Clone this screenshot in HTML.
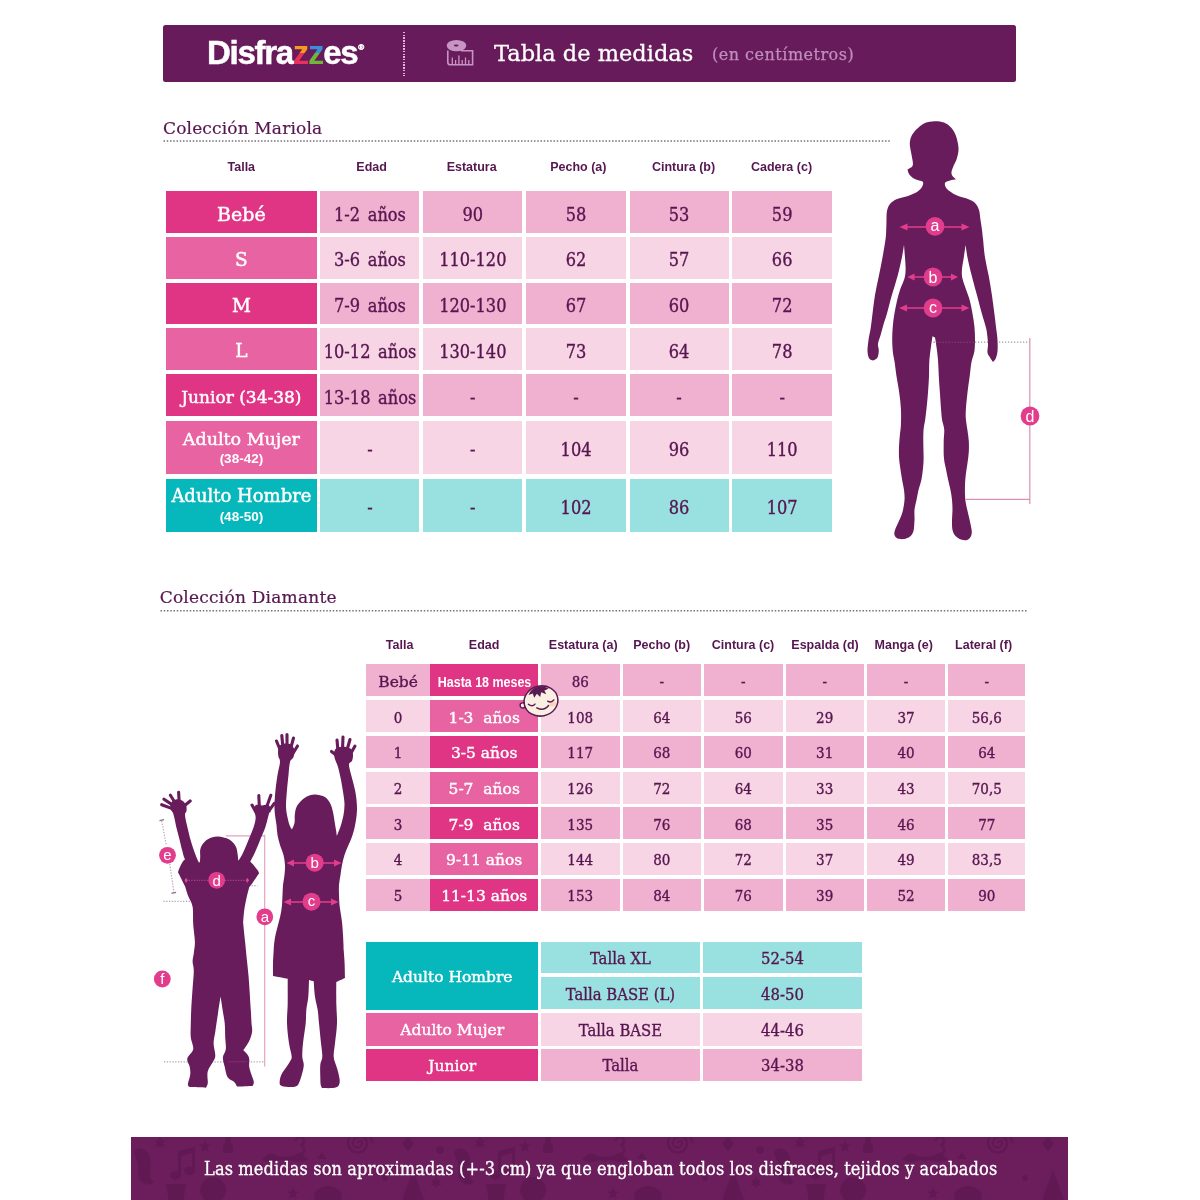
<!DOCTYPE html>
<html lang="es"><head><meta charset="utf-8"><title>Tabla de medidas</title>
<style>
html,body{margin:0;padding:0}
body{width:1200px;height:1200px;position:relative;overflow:hidden;background:#fff}
.a{position:absolute}
.c{position:absolute;box-sizing:border-box;display:flex;align-items:center;justify-content:center;text-align:center;white-space:nowrap;
 font-family:"DejaVu Serif","Liberation Serif",serif;font-stretch:condensed;color:#561650;-webkit-text-stroke:0.35px currentColor}
.w{color:#fff}
.h{position:absolute;font-family:"Liberation Sans","DejaVu Sans",sans-serif;font-weight:bold;font-size:12.5px;color:#561650;white-space:nowrap;line-height:14px;transform:translateX(-50%)}
.t{position:absolute;font-family:"DejaVu Serif","Liberation Serif",serif;color:#561650;white-space:nowrap;-webkit-text-stroke:0.2px currentColor}
.dot{position:absolute;height:1.5px;background:repeating-linear-gradient(90deg,#7d7480 0 1.5px,transparent 1.5px 3.25px)}
.s{font-family:"Liberation Sans",sans-serif;font-weight:bold;font-stretch:normal;-webkit-text-stroke:0}
</style></head>
<body>
<div class="a" style="left:163px;top:25px;width:853.4px;height:57.2px;background:#671b5a;border-radius:2.5px"></div>
<div class="a" id="logo" style="left:207px;top:32.5px;font:bold 33px/40px 'Liberation Sans',sans-serif;letter-spacing:-1.3px;color:#fff;white-space:nowrap;-webkit-text-stroke:0.5px #fff">Disfra<span style="background:linear-gradient(180deg,#f39a1f 0 52%,#e8325c 52% 100%);-webkit-background-clip:text;background-clip:text;color:transparent;-webkit-text-stroke:0">z</span><span style="background:linear-gradient(180deg,#3b8fd8 0 52%,#6fb63a 52% 100%);-webkit-background-clip:text;background-clip:text;color:transparent;-webkit-text-stroke:0">z</span>es<span style="font-size:8px;letter-spacing:0;position:relative;top:-14px;left:1px">®</span></div>
<div class="a" style="left:403.2px;top:32px;width:1.7px;height:44px;background:repeating-linear-gradient(180deg,#dfb6da 0 1.4px,transparent 1.4px 2.7px)"></div>
<svg class="a" style="left:444px;top:38px" width="32" height="30" viewBox="0 0 32 30">
 <g fill="none" stroke="#c795c3" stroke-width="1.6">
  <path d="M3.8 12.5V24.2Q3.8 26.8 6.4 26.8H28.6V12.8H17"/>
 </g>
 <ellipse cx="12.5" cy="7.6" rx="9.8" ry="5.7" fill="#c795c3"/>
 <ellipse cx="12.2" cy="7.4" rx="2.4" ry="1" fill="#671b5a"/>
 <g stroke="#c795c3" stroke-width="1.3"><path d="M8.3 26V19.5M11.6 26V22M14.9 26V17.5M18.2 26V22M21.5 26V19.5M24.8 26V22"/></g>
</svg>
<div class="t" id="ttl" style="left:494px;top:38px;font-size:22.5px;line-height:30px;color:#fff;-webkit-text-stroke:0.3px #fff">Tabla de medidas</div>
<div class="t" id="sub" style="left:712px;top:41.8px;font-size:16px;line-height:26px;color:#c08ebe;letter-spacing:0.5px;-webkit-text-stroke:0.25px #c08ebe">(en centímetros)</div>

<div class="t" id="s1" style="left:163px;top:116.5px;font-size:17px;line-height:22px;letter-spacing:.15px">Colección Mariola</div>
<svg class="a" style="left:0;top:138px" width="1200" height="6"><path d="M163.5 3H890" stroke="#7a6f7c" stroke-width="1.6" stroke-dasharray="1.5 1.75" fill="none"/></svg>
<div class="h" style="left:241.3px;top:159.5px">Talla</div>
<div class="h" style="left:371.6px;top:159.5px">Edad</div>
<div class="h" style="left:471.7px;top:159.5px">Estatura</div>
<div class="h" style="left:578.3px;top:159.5px">Pecho (a)</div>
<div class="h" style="left:683.5px;top:159.5px">Cintura (b)</div>
<div class="h" style="left:781.5px;top:159.5px">Cadera (c)</div>
<div class="c w" style="left:165.5px;top:191.3px;width:151.8px;height:41.7px;background:#e03585;font-size:19px;font-stretch:normal;padding-top:3.5px;-webkit-text-stroke:0.45px #fff">Bebé</div>
<div class="c" style="left:320px;top:191.3px;width:99px;height:41.7px;background:#f0b0d0;font-size:18px;padding-top:4px;word-spacing:2.5px;padding-left:1px">1-2 años</div>
<div class="c" style="left:423.3px;top:191.3px;width:99px;height:41.7px;background:#f0b0d0;font-size:18px;padding-top:4px">90</div>
<div class="c" style="left:526.3px;top:191.3px;width:99.5px;height:41.7px;background:#f0b0d0;font-size:18px;padding-top:4px">58</div>
<div class="c" style="left:629.5px;top:191.3px;width:99px;height:41.7px;background:#f0b0d0;font-size:18px;padding-top:4px">53</div>
<div class="c" style="left:732.3px;top:191.3px;width:99.7px;height:41.7px;background:#f0b0d0;font-size:18px;padding-top:4px">59</div>
<div class="c w" style="left:165.5px;top:237px;width:151.8px;height:41.5px;background:#e863a1;font-size:18.5px;font-stretch:normal;padding-top:3.5px;-webkit-text-stroke:0.45px #fff">S</div>
<div class="c" style="left:320px;top:237px;width:99px;height:41.5px;background:#f8d5e5;font-size:18px;padding-top:4px;word-spacing:2.5px;padding-left:1px">3-6 años</div>
<div class="c" style="left:423.3px;top:237px;width:99px;height:41.5px;background:#f8d5e5;font-size:18px;padding-top:4px">110-120</div>
<div class="c" style="left:526.3px;top:237px;width:99.5px;height:41.5px;background:#f8d5e5;font-size:18px;padding-top:4px">62</div>
<div class="c" style="left:629.5px;top:237px;width:99px;height:41.5px;background:#f8d5e5;font-size:18px;padding-top:4px">57</div>
<div class="c" style="left:732.3px;top:237px;width:99.7px;height:41.5px;background:#f8d5e5;font-size:18px;padding-top:4px">66</div>
<div class="c w" style="left:165.5px;top:282.7px;width:151.8px;height:41.5px;background:#e03585;font-size:18.5px;font-stretch:normal;padding-top:3.5px;-webkit-text-stroke:0.45px #fff">M</div>
<div class="c" style="left:320px;top:282.7px;width:99px;height:41.5px;background:#f0b0d0;font-size:18px;padding-top:4px;word-spacing:2.5px;padding-left:1px">7-9 años</div>
<div class="c" style="left:423.3px;top:282.7px;width:99px;height:41.5px;background:#f0b0d0;font-size:18px;padding-top:4px">120-130</div>
<div class="c" style="left:526.3px;top:282.7px;width:99.5px;height:41.5px;background:#f0b0d0;font-size:18px;padding-top:4px">67</div>
<div class="c" style="left:629.5px;top:282.7px;width:99px;height:41.5px;background:#f0b0d0;font-size:18px;padding-top:4px">60</div>
<div class="c" style="left:732.3px;top:282.7px;width:99.7px;height:41.5px;background:#f0b0d0;font-size:18px;padding-top:4px">72</div>
<div class="c w" style="left:165.5px;top:328.3px;width:151.8px;height:41.5px;background:#e863a1;font-size:18.5px;font-stretch:normal;padding-top:3.5px;-webkit-text-stroke:0.45px #fff">L</div>
<div class="c" style="left:320px;top:328.3px;width:99px;height:41.5px;background:#f8d5e5;font-size:18px;padding-top:4px;word-spacing:2.5px;padding-left:1px">10-12 años</div>
<div class="c" style="left:423.3px;top:328.3px;width:99px;height:41.5px;background:#f8d5e5;font-size:18px;padding-top:4px">130-140</div>
<div class="c" style="left:526.3px;top:328.3px;width:99.5px;height:41.5px;background:#f8d5e5;font-size:18px;padding-top:4px">73</div>
<div class="c" style="left:629.5px;top:328.3px;width:99px;height:41.5px;background:#f8d5e5;font-size:18px;padding-top:4px">64</div>
<div class="c" style="left:732.3px;top:328.3px;width:99.7px;height:41.5px;background:#f8d5e5;font-size:18px;padding-top:4px">78</div>
<div class="c w" style="left:165.5px;top:374.3px;width:151.8px;height:41.5px;background:#e03585;font-size:17px;font-stretch:normal;padding-top:3.5px;-webkit-text-stroke:0.45px #fff">Junior (34-38)</div>
<div class="c" style="left:320px;top:374.3px;width:99px;height:41.5px;background:#f0b0d0;font-size:18px;padding-top:4px;word-spacing:2.5px;padding-left:1px">13-18 años</div>
<div class="c" style="left:423.3px;top:374.3px;width:99px;height:41.5px;background:#f0b0d0;font-size:18px;padding-top:4px">-</div>
<div class="c" style="left:526.3px;top:374.3px;width:99.5px;height:41.5px;background:#f0b0d0;font-size:18px;padding-top:4px">-</div>
<div class="c" style="left:629.5px;top:374.3px;width:99px;height:41.5px;background:#f0b0d0;font-size:18px;padding-top:4px">-</div>
<div class="c" style="left:732.3px;top:374.3px;width:99.7px;height:41.5px;background:#f0b0d0;font-size:18px;padding-top:4px">-</div>
<div class="c w" style="left:165.5px;top:420.5px;width:151.8px;height:53.5px;background:#e863a1;font-size:17.5px;font-stretch:normal;padding-top:3.5px;-webkit-text-stroke:0.45px #fff;line-height:18.5px"><div>Adulto Mujer<br><span class="s" style="font-size:13.5px">(38-42)</span></div></div>
<div class="c" style="left:320px;top:420.5px;width:99px;height:53.5px;background:#f8d5e5;font-size:18px;padding-top:4px;word-spacing:2.5px;padding-left:1px">-</div>
<div class="c" style="left:423.3px;top:420.5px;width:99px;height:53.5px;background:#f8d5e5;font-size:18px;padding-top:4px">-</div>
<div class="c" style="left:526.3px;top:420.5px;width:99.5px;height:53.5px;background:#f8d5e5;font-size:18px;padding-top:4px">104</div>
<div class="c" style="left:629.5px;top:420.5px;width:99px;height:53.5px;background:#f8d5e5;font-size:18px;padding-top:4px">96</div>
<div class="c" style="left:732.3px;top:420.5px;width:99.7px;height:53.5px;background:#f8d5e5;font-size:18px;padding-top:4px">110</div>
<div class="c w" style="left:165.5px;top:478.5px;width:151.8px;height:53px;background:#06b7bb;font-size:18px;font-stretch:normal;padding-top:3.5px;-webkit-text-stroke:0.45px #fff;line-height:18.5px"><div>Adulto Hombre<br><span class="s" style="font-size:13.5px">(48-50)</span></div></div>
<div class="c" style="left:320px;top:478.5px;width:99px;height:53px;background:#98e1e0;font-size:18px;padding-top:4px;word-spacing:2.5px;padding-left:1px">-</div>
<div class="c" style="left:423.3px;top:478.5px;width:99px;height:53px;background:#98e1e0;font-size:18px;padding-top:4px">-</div>
<div class="c" style="left:526.3px;top:478.5px;width:99.5px;height:53px;background:#98e1e0;font-size:18px;padding-top:4px">102</div>
<div class="c" style="left:629.5px;top:478.5px;width:99px;height:53px;background:#98e1e0;font-size:18px;padding-top:4px">86</div>
<div class="c" style="left:732.3px;top:478.5px;width:99.7px;height:53px;background:#98e1e0;font-size:18px;padding-top:4px">107</div>
<div class="t" id="s2" style="left:159.700px;top:586.3px;font-size:17px;line-height:22px;letter-spacing:.22px">Colección Diamante</div>
<svg class="a" style="left:0;top:608px" width="1200" height="6"><path d="M160.5 2.800H1026.500" stroke="#7a6f7c" stroke-width="1.6" stroke-dasharray="1.5 1.75" fill="none"/></svg>
<div class="h" style="left:399.6px;top:637.5px">Talla</div>
<div class="h" style="left:484.1px;top:637.5px">Edad</div>
<div class="h" style="left:583.2px;top:637.5px">Estatura (a)</div>
<div class="h" style="left:661.7px;top:637.5px">Pecho (b)</div>
<div class="h" style="left:743px;top:637.5px">Cintura (c)</div>
<div class="h" style="left:825px;top:637.5px">Espalda (d)</div>
<div class="h" style="left:903.7px;top:637.5px">Manga (e)</div>
<div class="h" style="left:983.6px;top:637.5px">Lateral (f)</div>
<div class="c" style="left:366px;top:664.4px;width:64.2px;height:32px;background:#f0b0d0;font-size:15px;padding-top:3px;font-stretch:normal;font-size:15.5px">Bebé</div>
<div class="c w" style="left:430.2px;top:664.4px;width:108px;height:32px;background:#e03585;font-size:15px;padding-top:3px;font-stretch:normal;font-size:15.5px;-webkit-text-stroke:0.4px #fff"><span class="s" style="font-size:14px;display:inline-block;transform:scaleX(.89)">Hasta 18 meses</span></div>
<div class="c" style="left:541px;top:664.4px;width:78.5px;height:32px;background:#f0b0d0;font-size:15px;padding-top:3px">86</div>
<div class="c" style="left:622.5px;top:664.4px;width:78.7px;height:32px;background:#f0b0d0;font-size:15px;padding-top:3px">-</div>
<div class="c" style="left:704px;top:664.4px;width:78.7px;height:32px;background:#f0b0d0;font-size:15px;padding-top:3px">-</div>
<div class="c" style="left:785.6px;top:664.4px;width:78.2px;height:32px;background:#f0b0d0;font-size:15px;padding-top:3px">-</div>
<div class="c" style="left:867px;top:664.4px;width:78px;height:32px;background:#f0b0d0;font-size:15px;padding-top:3px">-</div>
<div class="c" style="left:948.3px;top:664.4px;width:77px;height:32px;background:#f0b0d0;font-size:15px;padding-top:3px">-</div>
<div class="c" style="left:366px;top:700.2px;width:64.2px;height:32px;background:#f8d5e5;font-size:15px;padding-top:3px">0</div>
<div class="c w" style="left:430.2px;top:700.2px;width:108px;height:32px;background:#e863a1;font-size:15px;padding-top:3px;font-stretch:normal;font-size:15.5px;-webkit-text-stroke:0.4px #fff">1-3&nbsp; años</div>
<div class="c" style="left:541px;top:700.2px;width:78.5px;height:32px;background:#f8d5e5;font-size:15px;padding-top:3px">108</div>
<div class="c" style="left:622.5px;top:700.2px;width:78.7px;height:32px;background:#f8d5e5;font-size:15px;padding-top:3px">64</div>
<div class="c" style="left:704px;top:700.2px;width:78.7px;height:32px;background:#f8d5e5;font-size:15px;padding-top:3px">56</div>
<div class="c" style="left:785.6px;top:700.2px;width:78.2px;height:32px;background:#f8d5e5;font-size:15px;padding-top:3px">29</div>
<div class="c" style="left:867px;top:700.2px;width:78px;height:32px;background:#f8d5e5;font-size:15px;padding-top:3px">37</div>
<div class="c" style="left:948.3px;top:700.2px;width:77px;height:32px;background:#f8d5e5;font-size:15px;padding-top:3px">56,6</div>
<div class="c" style="left:366px;top:735.9px;width:64.2px;height:32px;background:#f0b0d0;font-size:15px;padding-top:3px">1</div>
<div class="c w" style="left:430.2px;top:735.9px;width:108px;height:32px;background:#e03585;font-size:15px;padding-top:3px;font-stretch:normal;font-size:15.5px;-webkit-text-stroke:0.4px #fff">3-5 años</div>
<div class="c" style="left:541px;top:735.9px;width:78.5px;height:32px;background:#f0b0d0;font-size:15px;padding-top:3px">117</div>
<div class="c" style="left:622.5px;top:735.9px;width:78.7px;height:32px;background:#f0b0d0;font-size:15px;padding-top:3px">68</div>
<div class="c" style="left:704px;top:735.9px;width:78.7px;height:32px;background:#f0b0d0;font-size:15px;padding-top:3px">60</div>
<div class="c" style="left:785.6px;top:735.9px;width:78.2px;height:32px;background:#f0b0d0;font-size:15px;padding-top:3px">31</div>
<div class="c" style="left:867px;top:735.9px;width:78px;height:32px;background:#f0b0d0;font-size:15px;padding-top:3px">40</div>
<div class="c" style="left:948.3px;top:735.9px;width:77px;height:32px;background:#f0b0d0;font-size:15px;padding-top:3px">64</div>
<div class="c" style="left:366px;top:771.6px;width:64.2px;height:32px;background:#f8d5e5;font-size:15px;padding-top:3px">2</div>
<div class="c w" style="left:430.2px;top:771.6px;width:108px;height:32px;background:#e863a1;font-size:15px;padding-top:3px;font-stretch:normal;font-size:15.5px;-webkit-text-stroke:0.4px #fff">5-7&nbsp; años</div>
<div class="c" style="left:541px;top:771.6px;width:78.5px;height:32px;background:#f8d5e5;font-size:15px;padding-top:3px">126</div>
<div class="c" style="left:622.5px;top:771.6px;width:78.7px;height:32px;background:#f8d5e5;font-size:15px;padding-top:3px">72</div>
<div class="c" style="left:704px;top:771.6px;width:78.7px;height:32px;background:#f8d5e5;font-size:15px;padding-top:3px">64</div>
<div class="c" style="left:785.6px;top:771.6px;width:78.2px;height:32px;background:#f8d5e5;font-size:15px;padding-top:3px">33</div>
<div class="c" style="left:867px;top:771.6px;width:78px;height:32px;background:#f8d5e5;font-size:15px;padding-top:3px">43</div>
<div class="c" style="left:948.3px;top:771.6px;width:77px;height:32px;background:#f8d5e5;font-size:15px;padding-top:3px">70,5</div>
<div class="c" style="left:366px;top:807.3px;width:64.2px;height:32px;background:#f0b0d0;font-size:15px;padding-top:3px">3</div>
<div class="c w" style="left:430.2px;top:807.3px;width:108px;height:32px;background:#e03585;font-size:15px;padding-top:3px;font-stretch:normal;font-size:15.5px;-webkit-text-stroke:0.4px #fff">7-9&nbsp; años</div>
<div class="c" style="left:541px;top:807.3px;width:78.5px;height:32px;background:#f0b0d0;font-size:15px;padding-top:3px">135</div>
<div class="c" style="left:622.5px;top:807.3px;width:78.7px;height:32px;background:#f0b0d0;font-size:15px;padding-top:3px">76</div>
<div class="c" style="left:704px;top:807.3px;width:78.7px;height:32px;background:#f0b0d0;font-size:15px;padding-top:3px">68</div>
<div class="c" style="left:785.6px;top:807.3px;width:78.2px;height:32px;background:#f0b0d0;font-size:15px;padding-top:3px">35</div>
<div class="c" style="left:867px;top:807.3px;width:78px;height:32px;background:#f0b0d0;font-size:15px;padding-top:3px">46</div>
<div class="c" style="left:948.3px;top:807.3px;width:77px;height:32px;background:#f0b0d0;font-size:15px;padding-top:3px">77</div>
<div class="c" style="left:366px;top:842.9px;width:64.2px;height:32px;background:#f8d5e5;font-size:15px;padding-top:3px">4</div>
<div class="c w" style="left:430.2px;top:842.9px;width:108px;height:32px;background:#e863a1;font-size:15px;padding-top:3px;font-stretch:normal;font-size:15.5px;-webkit-text-stroke:0.4px #fff">9-11 años</div>
<div class="c" style="left:541px;top:842.9px;width:78.5px;height:32px;background:#f8d5e5;font-size:15px;padding-top:3px">144</div>
<div class="c" style="left:622.5px;top:842.9px;width:78.7px;height:32px;background:#f8d5e5;font-size:15px;padding-top:3px">80</div>
<div class="c" style="left:704px;top:842.9px;width:78.7px;height:32px;background:#f8d5e5;font-size:15px;padding-top:3px">72</div>
<div class="c" style="left:785.6px;top:842.9px;width:78.2px;height:32px;background:#f8d5e5;font-size:15px;padding-top:3px">37</div>
<div class="c" style="left:867px;top:842.9px;width:78px;height:32px;background:#f8d5e5;font-size:15px;padding-top:3px">49</div>
<div class="c" style="left:948.3px;top:842.9px;width:77px;height:32px;background:#f8d5e5;font-size:15px;padding-top:3px">83,5</div>
<div class="c" style="left:366px;top:878.6px;width:64.2px;height:32px;background:#f0b0d0;font-size:15px;padding-top:3px">5</div>
<div class="c w" style="left:430.2px;top:878.6px;width:108px;height:32px;background:#e03585;font-size:15px;padding-top:3px;font-stretch:normal;font-size:15.5px;-webkit-text-stroke:0.4px #fff">11-13 años</div>
<div class="c" style="left:541px;top:878.6px;width:78.5px;height:32px;background:#f0b0d0;font-size:15px;padding-top:3px">153</div>
<div class="c" style="left:622.5px;top:878.6px;width:78.7px;height:32px;background:#f0b0d0;font-size:15px;padding-top:3px">84</div>
<div class="c" style="left:704px;top:878.6px;width:78.7px;height:32px;background:#f0b0d0;font-size:15px;padding-top:3px">76</div>
<div class="c" style="left:785.6px;top:878.6px;width:78.2px;height:32px;background:#f0b0d0;font-size:15px;padding-top:3px">39</div>
<div class="c" style="left:867px;top:878.6px;width:78px;height:32px;background:#f0b0d0;font-size:15px;padding-top:3px">52</div>
<div class="c" style="left:948.3px;top:878.6px;width:77px;height:32px;background:#f0b0d0;font-size:15px;padding-top:3px">90</div>
<div class="c w" style="left:366px;top:942px;width:172.4px;height:67.5px;background:#06b7bb;font-size:16.5px;padding-top:2px;font-stretch:normal;font-size:15.5px;-webkit-text-stroke:0.4px #fff">Adulto Hombre</div>
<div class="c" style="left:541.3px;top:942px;width:158.3px;height:31.3px;background:#98e1e0;font-size:16.5px;padding-top:2px">Talla XL</div>
<div class="c" style="left:703px;top:942px;width:159px;height:31.3px;background:#98e1e0;font-size:16.5px;padding-top:2px">52-54</div>
<div class="c" style="left:541.3px;top:977.3px;width:158.3px;height:32px;background:#98e1e0;font-size:16.5px;padding-top:2px">Talla BASE (L)</div>
<div class="c" style="left:703px;top:977.3px;width:159px;height:32px;background:#98e1e0;font-size:16.5px;padding-top:2px">48-50</div>
<div class="c w" style="left:366px;top:1013px;width:172.4px;height:32.5px;background:#e863a1;font-size:16.5px;padding-top:2px;font-stretch:normal;font-size:15.5px;-webkit-text-stroke:0.4px #fff">Adulto Mujer</div>
<div class="c" style="left:541.3px;top:1013px;width:158.3px;height:32.5px;background:#f8d5e5;font-size:16.5px;padding-top:2px">Talla BASE</div>
<div class="c" style="left:703px;top:1013px;width:159px;height:32.5px;background:#f8d5e5;font-size:16.5px;padding-top:2px">44-46</div>
<div class="c w" style="left:366px;top:1048.5px;width:172.4px;height:32px;background:#e03585;font-size:16.5px;padding-top:2px;font-stretch:normal;font-size:15.5px;-webkit-text-stroke:0.4px #fff">Junior</div>
<div class="c" style="left:541.3px;top:1048.5px;width:158.3px;height:32px;background:#f0b0d0;font-size:16.5px;padding-top:2px">Talla</div>
<div class="c" style="left:703px;top:1048.5px;width:159px;height:32px;background:#f0b0d0;font-size:16.5px;padding-top:2px">34-38</div>
<svg class="a" style="left:131px;top:1137px" width="937" height="63" viewBox="131 1137 937 63">
<defs><pattern id="pt" x="131" y="1137" width="320" height="63" patternUnits="userSpaceOnUse">
<g transform="translate(-131 -1137)" fill="#5d1751" stroke="none">
<path d="M135 1150q8-4 13 3q4 8 2 18q-1 8 4 10q-2 5-9 3q-8-3-7-14q1-8-2-12q-3-4-1-8z"/>
<path d="M160 1136.500l1.500 4l4.200-.6l-2.700 3.300l2.700 3.300l-4.200-.6l-1.500 4l-1.500-4l-4.200.6l2.700-3.300l-2.700-3.300l4.200.6z"/>
<path d="M178 1151l17-4v24a5.500 4.500 0 1 1-3-4.200v-13.500l-11 2.600v19.600a5.500 4.500 0 1 1-3-4.200z"/>
<path d="M205 1140l1.700 4.200l4.500.3l-3.500 2.900l1.100 4.400l-3.800-2.400l-3.800 2.400l1.100-4.400l-3.500-2.900l4.500-.3z"/>
<path d="M225 1137h6v6l2 3v7h-10v-7l2-3z"/>
<path d="M166 1184h20l-2.500 16h-15z"/>
<circle cx="213" cy="1190" r="13"/>
<path d="M262 1160q6-9 14-5q5 3 9 1q4 2 9-1q8-4 14 5q-8 4-15 1q-5-2-8 1q-3-3-8-1q-7 3-15-1z"/>
<path d="M296 1141a4 4 0 1 1 4 4q5 1 4 6q-1 4-6 3" fill="none" stroke="#5d1751" stroke-width="2.5"/>
<path d="M360 1143m-2 0a2 2 0 1 1 4 0a4.500 4.500 0 1 1-9 0a7 7 0 1 1 14 0a9.500 9.500 0 1 1-19 0a12 12 0 1 1 24 0" fill="none" stroke="#5d1751" stroke-width="2.600"/>
<path d="M322 1152l5 7h-10z"/>
<path d="M293 1187l1.700 4.200l4.500.3l-3.500 2.900l1.100 4.400l-3.800-2.400l-3.800 2.400l1.100-4.400l-3.500-2.900l4.500-.3z"/>
<ellipse cx="328" cy="1196" rx="14" ry="10"/>
<path d="M413 1170l11 30h-22z"/>
<path d="M408 1137l6 6l-6 9l-6-9z"/>
<circle cx="385" cy="1178" r="3"/><circle cx="246" cy="1172" r="2.500"/><circle cx="440" cy="1150" r="4"/>
<path d="M436 1176l1.500 4l4.200-.6l-2.700 3.300l2.700 3.300l-4.200-.6l-1.500 4l-1.500-4l-4.200.6l2.700-3.300l-2.700-3.300l4.200.6z"/>
</g></pattern></defs>
<rect x="131" y="1137" width="937" height="63" fill="#6b1d5c"/>
<rect x="131" y="1137" width="937" height="63" fill="url(#pt)" opacity=".7"/>
</svg>
<div class="t" id="ft" style="left:204px;top:1157px;font-size:18px;line-height:24px;color:#fff;font-stretch:condensed;letter-spacing:0.12px;-webkit-text-stroke:0.3px #fff">Las medidas son aproximadas (+-3 cm) ya que engloban todos los disfraces, tejidos y acabados</div>
<svg class="a" style="left:0;top:0" width="1200" height="580" viewBox="0 0 1200 580">
<path d="M960 342.2H1030" stroke-dasharray="1.3 1.7" stroke="#a89aa8" stroke-width="1.2" fill="none"/>
<path fill="#681c5b" d="M934.5 121.2C937.7 121.1 941.2 121.5 944.0 122.5C946.8 123.5 949.0 125.2 951.0 127.5C953.0 129.8 954.8 132.6 956.0 136.0C957.2 139.4 958.3 144.3 958.5 148.0C958.7 151.7 957.8 155.0 957.0 158.0C956.2 161.0 954.4 163.7 953.5 166.0C952.6 168.3 951.7 170.3 951.5 172.0C951.3 173.7 951.8 174.8 952.5 176.0C953.2 177.2 955.4 178.7 956.0 179.2C955.0 179.4 951.8 179.9 950.0 180.5C948.2 181.1 945.5 181.6 945.0 183.0C944.5 184.4 945.2 187.0 947.0 189.0C948.8 191.0 952.5 193.3 956.0 195.0C959.5 196.7 964.8 197.7 968.0 199.0C971.2 200.3 973.2 201.2 975.0 203.0C976.8 204.8 978.1 207.2 979.0 210.0C979.9 212.8 980.0 216.7 980.5 220.0C981.0 223.3 981.6 226.9 982.0 230.0C982.4 233.1 982.5 234.2 983.0 238.8C983.5 243.3 984.0 251.2 985.0 257.5C986.0 263.8 987.6 270.0 988.8 276.2C989.9 282.5 991.0 288.8 991.9 295.0C992.8 301.2 993.7 308.1 994.4 313.8C995.1 319.4 995.7 324.4 996.2 328.8C996.8 333.1 997.3 336.2 997.5 340.0C997.7 343.8 997.8 348.1 997.5 351.2C997.2 354.4 996.4 357.0 995.6 358.8C994.9 360.5 993.4 361.4 993.0 361.9C992.5 361.2 990.9 359.1 990.0 357.5C989.1 355.9 987.8 354.8 987.5 352.5C987.2 350.2 988.1 347.1 988.0 343.8C987.9 340.4 987.3 335.4 986.9 332.5C986.5 329.6 986.4 329.4 985.6 326.2C984.8 323.1 983.4 319.0 981.9 313.8C980.4 308.5 978.6 301.2 976.9 295.0C975.2 288.8 973.5 282.5 971.9 276.2C970.3 270.0 968.5 262.7 967.5 257.5C966.5 252.3 965.9 247.1 965.6 245.0C965.3 247.1 964.4 253.3 963.8 257.5C963.1 261.7 962.1 266.5 961.9 270.0C961.7 273.5 961.8 275.4 962.5 278.8C963.2 282.1 965.0 286.2 966.2 290.0C967.5 293.8 969.0 297.3 970.0 301.2C971.0 305.2 971.8 309.6 972.5 313.8C973.2 317.9 974.0 322.1 974.4 326.2C974.8 330.4 975.0 334.6 975.0 338.8C975.0 342.9 975.0 347.4 974.4 351.2C973.8 355.1 972.3 357.8 971.5 362.0C970.7 366.2 970.4 371.2 969.7 376.2C969.0 381.3 968.1 387.1 967.5 392.5C966.9 397.9 966.2 404.2 965.9 408.8C965.6 413.3 965.6 416.0 965.9 419.6C966.2 423.2 967.0 426.8 967.5 430.4C968.0 434.0 968.6 437.6 968.8 441.2C969.0 444.9 969.0 448.4 968.8 452.0C968.6 455.6 968.0 459.3 967.5 462.9C967.0 466.5 966.3 470.1 965.9 473.8C965.5 477.4 965.1 481.5 965.0 485.0C964.9 488.5 964.9 492.0 965.0 495.0C965.1 498.0 965.3 500.0 965.8 503.0C966.3 506.0 967.2 509.5 968.0 513.0C968.8 516.5 969.9 520.8 970.5 524.0C971.1 527.2 971.8 529.8 971.8 532.0C971.8 534.2 971.3 535.7 970.5 537.0C969.7 538.3 968.6 539.6 967.0 540.0C965.4 540.4 962.9 540.2 961.0 539.5C959.1 538.8 956.9 537.6 955.5 536.0C954.1 534.4 953.1 532.7 952.5 530.0C951.9 527.3 952.0 523.3 952.0 520.0C952.0 516.7 952.5 513.3 952.5 510.0C952.5 506.7 952.3 503.3 952.0 500.0C951.7 496.7 951.2 493.5 950.5 490.0C949.8 486.5 948.8 482.8 948.0 479.2C947.2 475.6 946.5 471.9 945.8 468.3C945.1 464.7 944.2 462.0 943.9 457.5C943.5 453.0 943.7 445.9 943.7 441.2C943.8 436.6 944.5 432.9 944.2 429.3C943.9 425.7 942.5 423.0 942.0 419.6C941.5 416.2 941.4 413.3 941.0 408.8C940.6 404.2 940.3 397.9 939.9 392.5C939.5 387.1 939.1 381.7 938.8 376.2C938.5 370.8 938.4 365.2 938.0 360.0C937.6 354.8 936.8 348.8 936.2 345.0C935.8 341.2 935.2 338.8 935.0 337.5C934.6 337.3 932.9 336.5 932.5 336.2C932.3 337.7 931.8 341.0 931.2 345.0C930.7 349.0 929.8 354.8 929.4 360.0C929.0 365.2 929.2 370.8 929.0 376.2C928.8 381.7 928.4 387.1 928.0 392.5C927.6 397.9 927.0 404.2 926.5 408.8C926.0 413.3 925.7 416.2 925.2 419.6C924.8 423.0 923.9 425.7 923.6 429.3C923.3 432.9 923.3 436.6 923.3 441.2C923.3 445.9 923.6 453.0 923.6 457.5C923.6 462.0 923.4 464.7 923.0 468.3C922.6 471.9 922.2 475.6 921.5 479.2C920.8 482.8 919.3 486.5 918.5 490.0C917.7 493.5 917.2 496.7 916.5 500.0C915.8 503.3 914.8 506.7 914.5 510.0C914.2 513.3 914.7 516.5 914.5 520.0C914.3 523.5 914.2 528.2 913.5 531.0C912.8 533.8 911.6 535.2 910.0 536.5C908.4 537.8 906.1 538.7 904.0 539.0C901.9 539.3 899.1 539.2 897.5 538.5C895.9 537.8 894.9 536.4 894.5 535.0C894.1 533.6 894.3 532.2 895.0 530.0C895.7 527.8 897.2 525.0 898.5 522.0C899.8 519.0 901.5 515.7 902.5 512.0C903.5 508.3 904.2 503.7 904.5 500.0C904.8 496.3 904.4 493.5 904.0 490.0C903.6 486.5 902.6 482.8 902.0 479.2C901.4 475.6 900.8 471.9 900.3 468.3C899.8 464.7 899.2 461.1 899.0 457.5C898.8 453.9 898.9 450.3 899.0 446.7C899.1 443.1 899.5 439.4 899.8 435.8C900.1 432.2 900.7 429.5 900.9 425.0C901.1 420.5 901.2 414.2 900.9 408.8C900.6 403.3 900.0 397.9 899.2 392.5C898.5 387.1 897.3 381.3 896.5 376.2C895.7 371.2 895.2 366.2 894.6 362.0C894.0 357.8 893.1 355.1 892.8 351.2C892.4 347.4 892.2 342.9 892.2 338.8C892.2 334.6 892.4 330.4 892.8 326.2C893.1 322.1 893.7 317.9 894.4 313.8C895.1 309.6 896.0 305.2 896.9 301.2C897.8 297.3 898.8 293.8 900.0 290.0C901.2 286.2 903.5 282.1 904.4 278.8C905.3 275.4 905.5 273.5 905.6 270.0C905.7 266.5 905.3 261.7 905.0 257.5C904.7 253.3 904.2 247.1 904.0 245.0C903.6 247.1 903.0 252.3 901.9 257.5C900.8 262.7 899.2 270.0 897.5 276.2C895.8 282.5 893.7 288.8 891.9 295.0C890.1 301.2 888.4 308.5 886.9 313.8C885.4 319.0 884.0 322.7 883.0 326.2C882.0 329.8 881.4 332.1 880.6 335.0C879.8 337.9 878.3 341.2 878.0 343.8C877.7 346.2 878.8 347.7 878.8 350.0C878.7 352.3 878.5 355.7 877.5 357.5C876.5 359.3 873.8 360.1 873.0 360.6C872.4 360.3 870.3 360.3 869.4 358.8C868.5 357.2 867.6 354.4 867.5 351.2C867.4 348.1 868.0 343.8 868.5 340.0C869.0 336.2 869.9 333.1 870.6 328.8C871.3 324.4 871.8 319.4 872.5 313.8C873.2 308.1 874.0 301.2 875.0 295.0C876.0 288.8 877.5 282.5 878.8 276.2C880.0 270.0 881.4 263.8 882.5 257.5C883.6 251.2 885.0 243.3 885.6 238.8C886.2 234.2 886.1 233.1 886.2 230.0C886.4 226.9 886.4 223.2 886.5 220.0C886.6 216.8 886.4 213.7 887.0 211.0C887.6 208.3 888.3 206.0 890.0 204.0C891.7 202.0 894.0 200.3 897.0 199.0C900.0 197.7 904.7 197.2 908.0 196.0C911.3 194.8 914.7 193.5 917.0 192.0C919.3 190.5 921.0 188.7 922.0 187.0C923.0 185.3 923.5 183.1 923.0 182.0C922.5 180.9 920.7 181.2 919.0 180.5C917.3 179.8 914.7 179.1 913.0 178.0C911.3 176.9 909.9 175.4 909.0 174.0C908.1 172.6 907.8 170.2 907.5 169.5C908.3 168.9 911.7 167.6 912.5 166.0C913.3 164.4 912.8 162.3 912.5 160.0C912.2 157.7 911.5 154.8 911.0 152.0C910.5 149.2 909.6 145.8 909.8 143.0C910.0 140.2 910.6 137.5 912.0 135.0C913.4 132.5 915.8 130.0 918.0 128.0C920.2 126.0 922.2 124.1 925.0 123.0C927.8 121.9 931.3 121.3 934.5 121.2Z"/>
<path d="M933.5 342.2H975" stroke-dasharray="1.3 1.7" stroke="#86497e" stroke-width="1" fill="none"/>
<g stroke="#e0609a" stroke-width="1" fill="none">
<path d="M1029.8 338V504M965.5 499.3H1030" stroke="#dd8fb4" stroke-width="1.2"/>
</g>
<g stroke="#e23d8c" stroke-width="1.5" fill="#e23d8c">
<path d="M905 227H965M912 277H954M904 308H964" fill="none"/>
<path d="M899.5 227l8-3.6v7.2zM969.5 227l-8-3.6v7.2zM907.5 277l7-3.4v6.8zM958 277l-7-3.4v6.8zM899 308l8-3.6v7.2zM969.5 308l-8-3.6v7.2z" stroke="none"/>
</g>
<g fill="#e23d8c"><circle cx="935" cy="226.3" r="9.4"/><circle cx="933" cy="277" r="9.4"/><circle cx="933" cy="308" r="9.4"/><circle cx="1030" cy="416" r="9.4"/></g>
<g font-family="'Liberation Sans',sans-serif" font-size="16" fill="#fff" text-anchor="middle">
<text x="935" y="231.3">a</text><text x="933" y="282.5">b</text><text x="933" y="312.6">c</text><text x="1030" y="421.5">d</text></g>
</svg>
<svg class="a" style="left:0;top:700px" width="400" height="420" viewBox="0 700 400 420">
<g stroke="#b7a3b6" stroke-width="1.2" fill="none" stroke-dasharray="1.3 1.5">
<path d="M163.4 901.3H201.5M164 1061.8H265M237.5 885.6H257.5"/>
<path d="M161.7 820.8L166.3 845.3M169.8 864L173.9 892.6"/>
</g>
<path d="M159.5 820.6l4.6 -1M171.5 893.4l4.6 -1" stroke="#8a7088" stroke-width="1.2" fill="none"/>
<path d="M264.7 834.8V1066.5M225.8 835.8H265" stroke="#e3a3c4" stroke-width="1.2" fill="none"/>
<path fill="#681c5b" d="M217.7 836.6C221.2 836.7 226.3 837.9 229.3 839.5C232.3 841.1 234.4 844.0 235.8 846.5C237.2 849.0 237.2 852.4 237.7 854.7C238.2 857.0 237.6 859.5 238.7 860.5C239.8 861.5 242.1 860.8 244.0 861.0C245.9 861.2 248.1 860.2 250.3 861.7C252.5 863.2 255.8 867.9 257.3 869.8C258.8 871.7 258.8 872.7 259.1 873.3C258.0 874.9 254.3 880.4 252.7 882.7C251.0 885.0 249.8 886.5 249.2 887.3C248.8 888.9 247.6 893.2 246.8 896.7C246.0 900.2 245.1 904.4 244.5 908.3C243.9 912.2 243.5 917.4 243.3 920.0C243.1 922.6 243.0 920.6 243.3 924.2C243.6 927.8 244.5 935.9 245.1 941.7C245.7 947.5 246.2 953.4 246.8 959.2C247.4 965.0 248.1 970.9 248.6 976.7C249.1 982.5 249.4 988.4 249.8 994.2C250.1 1000.0 250.6 1006.9 250.9 1011.7C251.2 1016.6 251.3 1020.0 251.5 1023.3C251.7 1026.6 252.5 1028.8 252.1 1031.7C251.7 1034.7 250.7 1037.9 249.2 1041.0C247.7 1044.1 244.3 1048.8 243.3 1050.3C243.9 1050.9 245.8 1052.4 246.8 1053.8C247.8 1055.2 248.8 1056.3 249.2 1058.5C249.6 1060.7 248.8 1064.0 249.2 1066.7C249.6 1069.4 250.7 1072.3 251.5 1074.8C252.3 1077.3 253.6 1079.9 253.8 1081.8C254.0 1083.7 252.9 1085.2 252.7 1085.9C250.1 1086.0 239.5 1086.4 236.9 1086.5C236.4 1085.7 235.6 1083.3 234.0 1081.8C232.4 1080.2 229.2 1079.7 227.6 1077.2C226.0 1074.7 225.5 1070.0 224.7 1066.7C223.9 1063.4 222.7 1060.2 222.9 1057.3C223.1 1054.4 225.4 1052.5 225.8 1049.2C226.2 1045.9 225.4 1041.8 225.2 1037.5C225.1 1033.2 225.1 1027.6 224.7 1023.3C224.3 1019.0 223.6 1016.2 222.9 1011.7C222.2 1007.2 221.0 999.0 220.6 996.5C220.2 999.0 218.9 1007.2 218.2 1011.7C217.6 1016.2 217.0 1020.0 216.5 1023.3C216.0 1026.6 215.8 1028.4 215.3 1031.7C214.8 1035.0 213.6 1039.4 213.6 1043.3C213.6 1047.2 215.3 1052.1 215.3 1055.0C215.3 1057.9 214.9 1058.1 213.6 1060.8C212.3 1063.5 208.7 1067.6 207.8 1071.3C206.8 1075.0 208.0 1080.3 207.8 1083.0C207.5 1085.7 206.3 1086.9 206.0 1087.7C203.3 1087.6 192.4 1087.2 189.7 1087.1C189.4 1086.6 187.8 1086.2 187.9 1084.2C188.0 1082.2 189.9 1077.7 190.2 1074.8C190.6 1071.9 190.2 1069.4 189.7 1066.7C189.2 1064.0 186.7 1061.4 187.3 1058.5C187.9 1055.6 192.6 1052.7 193.2 1049.2C193.8 1045.7 191.2 1041.8 190.8 1037.5C190.4 1033.2 190.7 1028.6 190.8 1023.3C190.9 1018.0 191.1 1011.6 191.4 1005.8C191.7 1000.0 192.2 994.1 192.6 988.3C193.0 982.5 193.8 975.3 193.8 970.8C193.8 966.3 192.6 964.4 192.6 961.5C192.6 958.6 193.4 956.6 193.8 953.3C194.1 950.0 195.0 946.6 194.9 941.7C194.8 936.9 193.6 930.0 193.2 924.2C192.8 918.4 193.4 911.3 192.6 906.7C191.8 902.1 189.8 900.1 188.5 896.7C187.2 893.3 185.6 888.0 185.0 886.2C184.4 885.0 182.7 881.5 181.5 879.2C180.3 876.9 178.6 873.4 178.0 872.2C178.4 871.2 179.1 868.4 180.3 866.3C181.5 864.1 183.1 860.2 185.0 859.3C186.9 858.4 189.7 860.4 192.0 861.0C194.3 861.6 197.6 863.5 199.0 862.8C200.4 862.1 200.0 859.1 200.2 857.0C200.4 854.9 199.8 852.1 200.2 850.0C200.6 847.9 201.2 846.1 202.5 844.2C203.8 842.4 205.8 840.2 208.3 838.9C210.8 837.6 214.2 836.5 217.7 836.6Z"/>
<path fill="#681c5b" d="M173.3 813.8C172.3 810.8 170.9 810.8 170.5 809.0C170.1 807.2 170.1 804.6 171.0 803.0C171.9 801.4 174.2 799.9 176.0 799.5C177.8 799.1 180.3 799.6 182.0 800.5C183.7 801.4 185.2 803.2 186.0 805.0C186.8 806.8 186.7 809.3 186.5 811.0C186.3 812.7 184.9 812.4 185.0 815.0C185.1 817.6 186.3 822.4 187.3 826.7C188.3 831.0 189.4 836.0 190.8 840.7C192.2 845.4 194.1 851.0 195.5 854.7C196.9 858.4 198.4 861.4 199.0 862.8C197.8 863.7 193.2 867.1 192.0 868.0C190.8 866.5 186.7 862.3 185.0 859.3C183.3 856.3 183.1 853.5 182.1 850.0C181.1 846.5 180.2 842.2 179.2 838.3C178.2 834.4 177.2 830.8 176.2 826.7C175.3 822.6 174.3 816.8 173.3 813.8Z"/>
<path fill="#681c5b" d="M238.7 860.5C239.5 859.1 241.6 856.0 243.3 852.3C245.1 848.6 247.4 842.6 249.2 838.3C250.9 834.0 252.7 830.0 253.8 826.7C254.9 823.4 255.4 820.6 255.6 818.5C255.8 816.4 255.3 815.3 255.0 813.8C254.7 812.3 253.3 811.0 253.5 809.5C253.7 808.0 254.6 805.7 256.0 805.0C257.4 804.3 260.0 805.5 262.0 805.5C264.0 805.5 266.5 804.5 268.0 805.0C269.5 805.5 270.6 807.3 271.0 808.5C271.4 809.7 270.8 811.1 270.5 812.0C270.2 812.9 269.8 811.3 269.0 813.8C268.2 816.2 266.9 822.6 265.5 826.7C264.1 830.8 262.6 834.0 260.8 838.3C259.1 842.6 256.8 848.4 255.0 852.3C253.2 856.2 251.1 860.1 250.3 861.7C249.2 862.8 245.1 867.0 244.0 868.0C243.1 866.8 239.6 861.8 238.7 860.5Z"/>
<path fill="#681c5b" d="M315.0 794.5C317.8 794.7 322.4 795.4 325.0 797.0C327.6 798.6 329.2 801.5 330.5 804.0C331.8 806.5 332.3 809.2 333.0 812.0C333.7 814.8 334.0 818.0 334.5 821.0C335.0 824.0 335.6 827.5 336.0 830.0C336.4 832.5 336.7 835.0 336.8 836.0C337.0 835.5 337.3 834.8 338.0 833.0C338.7 831.2 340.1 828.0 341.0 825.0C341.9 822.0 342.9 818.3 343.5 815.0C344.1 811.7 344.5 808.3 344.5 805.0C344.5 801.7 344.1 799.2 343.5 795.0C342.9 790.8 341.9 784.7 341.0 780.0C340.1 775.3 338.9 770.3 338.0 767.0C337.1 763.7 336.0 762.2 335.3 760.0C334.6 757.8 334.0 755.8 334.0 754.0C334.0 752.2 334.5 750.2 335.5 749.0C336.5 747.8 338.2 747.3 340.0 747.0C341.8 746.7 344.1 746.6 346.0 747.0C347.9 747.4 350.3 748.2 351.5 749.5C352.7 750.8 352.9 753.1 353.0 755.0C353.1 756.9 352.7 759.3 352.0 761.0C351.3 762.7 348.9 761.8 349.0 765.0C349.1 768.2 351.5 775.8 352.5 780.0C353.5 784.2 354.3 786.7 355.0 790.0C355.7 793.3 356.2 796.7 356.5 800.0C356.8 803.3 357.1 806.7 357.0 810.0C356.9 813.3 356.5 816.7 356.0 820.0C355.5 823.3 354.8 827.0 354.0 830.0C353.2 833.0 352.4 835.5 351.5 838.0C350.6 840.5 349.7 842.2 348.5 845.0C347.3 847.8 345.6 851.7 344.5 855.0C343.4 858.3 342.7 861.7 342.0 865.0C341.3 868.3 341.0 871.7 340.5 875.0C340.0 878.3 339.2 881.7 339.0 885.0C338.8 888.3 338.9 891.7 339.0 895.0C339.1 898.3 339.2 901.7 339.5 905.0C339.8 908.3 340.5 911.7 341.0 915.0C341.5 918.3 342.0 921.7 342.3 925.0C342.6 928.3 342.8 931.7 343.0 935.0C343.2 938.3 343.4 942.5 343.5 945.0C343.6 947.5 343.5 947.0 343.7 950.0C343.9 953.0 344.4 958.6 344.6 963.3C344.8 968.0 344.9 975.5 345.0 978.0C343.6 978.7 337.8 981.3 336.3 982.0C336.3 985.5 336.2 996.4 336.3 1003.3C336.4 1010.2 337.2 1016.6 337.0 1023.3C336.8 1030.0 335.6 1037.7 335.0 1043.3C334.4 1048.9 333.5 1052.9 333.7 1056.7C333.9 1060.5 335.5 1063.3 336.3 1066.0C337.1 1068.7 337.7 1070.0 338.3 1072.7C338.9 1075.4 340.0 1079.6 339.7 1082.0C339.4 1084.4 338.9 1086.3 336.3 1087.3C333.7 1088.3 326.9 1088.2 324.3 1088.0C321.8 1087.8 321.7 1087.9 321.0 1086.0C320.3 1084.1 320.4 1080.2 320.3 1076.7C320.2 1073.2 320.0 1068.0 320.3 1064.7C320.6 1061.4 322.2 1060.3 322.3 1056.7C322.4 1053.1 321.6 1048.9 321.0 1043.3C320.4 1037.7 319.6 1028.8 319.0 1023.3C318.4 1017.8 318.4 1014.4 317.7 1010.0C317.0 1005.6 315.7 1001.5 315.0 996.7C314.3 991.9 313.9 983.9 313.7 981.3C312.9 981.1 309.8 980.2 309.0 980.0C308.9 982.8 308.8 991.7 308.3 996.7C307.9 1001.7 306.7 1005.6 306.3 1010.0C305.9 1014.4 306.2 1017.8 305.7 1023.3C305.1 1028.8 303.6 1037.7 303.0 1043.3C302.4 1048.9 302.2 1052.9 302.3 1056.7C302.4 1060.5 304.1 1061.9 303.7 1066.0C303.3 1070.1 301.1 1077.8 299.7 1081.3C298.2 1084.8 298.0 1085.9 295.0 1086.7C292.0 1087.5 284.2 1086.9 281.7 1086.0C279.1 1085.1 279.7 1083.3 279.7 1081.3C279.7 1079.3 280.6 1076.3 281.7 1074.0C282.8 1071.7 285.0 1069.3 286.3 1067.3C287.6 1065.3 288.8 1063.8 289.7 1062.0C290.6 1060.2 291.8 1059.8 291.7 1056.7C291.6 1053.6 289.8 1048.9 289.0 1043.3C288.2 1037.7 287.2 1030.0 287.0 1023.3C286.8 1016.6 287.6 1010.7 287.7 1003.3C287.8 995.9 287.7 982.8 287.7 978.7C285.2 978.2 275.4 976.5 273.0 976.0C273.0 973.9 272.9 967.6 273.0 963.3C273.1 959.0 273.5 953.0 273.7 950.0C273.9 947.0 273.7 947.5 274.0 945.0C274.3 942.5 274.8 938.3 275.5 935.0C276.2 931.7 277.2 928.3 278.0 925.0C278.8 921.7 279.8 918.3 280.5 915.0C281.2 911.7 281.7 908.3 282.0 905.0C282.3 901.7 282.3 898.3 282.5 895.0C282.7 891.7 282.7 888.3 283.0 885.0C283.3 881.7 284.2 878.3 284.5 875.0C284.8 871.7 285.2 868.3 285.0 865.0C284.8 861.7 284.3 858.3 283.5 855.0C282.7 851.7 281.0 848.3 280.0 845.0C279.0 841.7 278.1 838.3 277.5 835.0C276.9 831.7 276.9 828.3 276.5 825.0C276.1 821.7 275.3 818.3 275.0 815.0C274.7 811.7 274.4 809.2 274.5 805.0C274.6 800.8 275.0 795.0 275.5 790.0C276.0 785.0 276.8 779.7 277.5 775.0C278.2 770.3 279.9 765.2 280.0 762.0C280.1 758.8 278.6 758.2 278.3 756.0C278.0 753.8 277.9 750.8 278.3 749.0C278.7 747.2 279.2 745.9 280.5 745.0C281.8 744.1 284.2 743.5 286.0 743.5C287.8 743.5 290.1 743.9 291.5 745.0C292.9 746.1 294.0 748.0 294.3 750.0C294.6 752.0 294.2 755.0 293.5 757.0C292.8 759.0 290.8 759.0 290.0 762.0C289.2 765.0 289.0 770.3 288.5 775.0C288.0 779.7 287.4 785.0 287.0 790.0C286.6 795.0 286.0 800.8 286.0 805.0C286.0 809.2 286.4 811.7 287.0 815.0C287.6 818.3 288.7 822.6 289.5 825.0C290.3 827.4 291.6 828.8 292.0 829.5C292.4 828.4 294.0 825.4 294.5 823.0C295.0 820.6 294.5 817.7 294.8 815.0C295.1 812.3 295.3 809.5 296.5 807.0C297.7 804.5 300.1 801.8 302.0 800.0C303.9 798.2 305.8 796.9 308.0 796.0C310.2 795.1 312.2 794.3 315.0 794.5Z"/>
<path stroke="#681c5b" stroke-width="3.1" stroke-linecap="round" fill="none" d="M172.2 808.6L161.7 804.7M172.8 805.1L164.0 799.2M175.1 802.8L170.4 795.2M179.2 802.2L178.6 792.2M183.8 806.2L190.2 801.0M255.6 811.5L252.0 805.0M259.3 806.0L258.8 795.5M267.0 806.0L270.8 795.3M270.2 809.2L274.3 803.3"/>
<path stroke="#681c5b" stroke-width="3.1" stroke-linecap="round" fill="none" d="M281.0 752.0L276.5 741.0M283.0 748.0L281.8 735.5M287.0 747.0L287.0 734.5M290.5 749.0L293.5 738.0M292.0 755.0L297.5 746.0M336.0 755.0L331.5 751.5M338.0 751.0L337.0 740.0M342.5 749.5L343.0 737.0M347.0 750.0L350.0 739.5M350.5 754.0L355.0 746.0"/>
<path d="M228 1061.8H247" stroke="#8a2a74" stroke-width="1" fill="none"/>
<path d="M186 880.3H247.5" stroke="#c9409a" stroke-width="1" stroke-dasharray="1.3 1.3" fill="none"/>
<path d="M184.5 880.3l1.6 -2.6l1.6 2.6l-1.6 2.6zM245.8 880.3l1.6 -2.6l1.6 2.6l-1.6 2.6z" fill="#d9489c"/>
<g stroke="#e23d8c" stroke-width="1.5" fill="#e23d8c">
<path d="M292 863H336M289 902H333" fill="none"/>
<path d="M286.5 863l7.5-3.4v6.8zM341.5 863l-7.5-3.4v6.8zM283.5 902l7.5-3.4v6.8zM338.5 902l-7.5-3.4v6.8z" stroke="none"/>
</g>
<g fill="#e23d8c"><circle cx="167.5" cy="855.3" r="8.4"/><circle cx="216.7" cy="880.3" r="8.4"/><circle cx="264.8" cy="916.8" r="8.4"/><circle cx="162.3" cy="979" r="8.4"/><circle cx="314.7" cy="862.7" r="9"/><circle cx="311.5" cy="901.7" r="9"/></g>
<g font-family="'Liberation Sans',sans-serif" font-size="15" fill="#fff" text-anchor="middle">
<text x="167.5" y="860">e</text><text x="216.7" y="885.6">d</text><text x="264.8" y="921.5">a</text><text x="162.3" y="984.3">f</text><text x="314.7" y="868">b</text><text x="311.5" y="906.2">c</text></g>
</svg>
<svg class="a" style="left:515px;top:680px" width="50" height="42" viewBox="515 680 50 42">
<g transform="rotate(-12 541 701)">
<circle cx="522.2" cy="701.5" r="2.6" fill="#fdf1f4" stroke="#5a1a52" stroke-width="1.4"/>
<ellipse cx="541" cy="701" rx="17" ry="15" fill="#fbefe2" stroke="#5a1a52" stroke-width="1.5"/>
<ellipse cx="552" cy="706.5" rx="3.6" ry="2.2" fill="#f8cdb4" opacity=".8"/>
<path d="M530 692.5Q534 686.6 541 686.2Q547 686.4 551 690.5L546.5 691.5L547.5 695.5L543 692.5L541 697L538.5 693L535 696.5L534.5 692Z" fill="#5a1a52"/>
<path d="M528 701.5Q531 705.5 534.5 702.8M547.5 702.5Q550.5 705.5 553.8 702.6M535.5 706.8Q541.5 712 547.5 707" fill="none" stroke="#5a1a52" stroke-width="1.4" stroke-linecap="round"/>
</g>
</svg>

</body></html>
